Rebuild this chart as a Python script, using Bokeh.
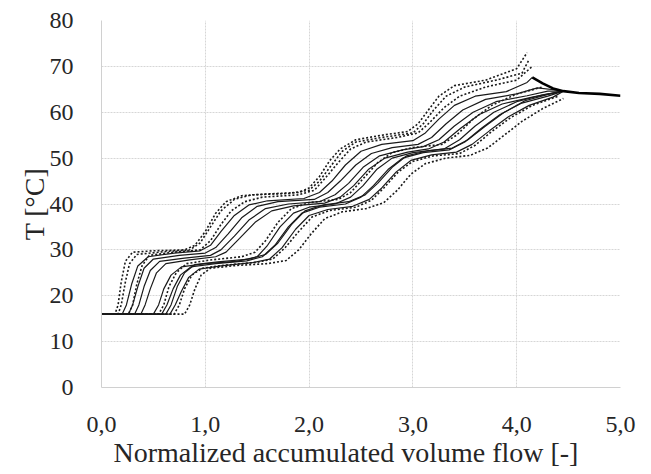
from bokeh.plotting import figure
from bokeh.models import Range1d, FixedTicker, Title
from bokeh.embed import file_html
from bokeh.resources import INLINE

# ---- data ----
# early group, dotted
D1_x = [0, 0.13, 0.16, 0.19, 0.23, 0.30, 0.50, 0.80, 0.90, 1.00, 1.10, 1.20, 1.35, 1.60, 1.90, 2.00, 2.10, 2.20, 2.30, 2.45, 2.70, 2.95, 3.05, 3.15, 3.25, 3.40, 3.70, 4.00, 4.10]
D1_y = [16, 16, 18, 23, 27.5, 29.5, 29.8, 30, 31, 34, 38, 40.5, 41.8, 42.2, 42.5, 43.5, 46, 49.5, 52, 54, 55, 55.8, 57.5, 60.5, 63.5, 65.8, 67, 69.5, 73]
D2_x = [0, 0.16, 0.19, 0.23, 0.27, 0.34, 0.60, 0.85, 0.95, 1.05, 1.15, 1.28, 1.45, 1.80, 2.00, 2.10, 2.20, 2.32, 2.45, 2.70, 3.00, 3.10, 3.20, 3.32, 3.50, 3.80, 4.05, 4.12]
D2_y = [16, 16, 18, 23, 27, 29, 29.6, 30, 31.5, 35, 38.5, 41, 42, 42.3, 43, 45, 48, 51.5, 53.5, 54.5, 55.5, 57.5, 60.5, 63.5, 65.5, 67, 68.5, 71.5]
D3_x = [0, 0.26, 0.30, 0.34, 0.39, 0.46, 0.70, 0.95, 1.05, 1.15, 1.25, 1.38, 1.55, 1.90, 2.05, 2.15, 2.28, 2.40, 2.55, 2.85, 3.05, 3.15, 3.30, 3.45, 3.70, 4.00, 4.15]
D3_y = [16, 16, 18, 22.5, 26.5, 28.8, 29.5, 30, 32, 35.5, 38.5, 40.5, 41.5, 42, 43, 45.5, 49, 52, 53.5, 54.5, 55.5, 57.5, 61, 63.5, 65.5, 67, 70]
# early group, solid
S1_x = [0, 0.20, 0.24, 0.29, 0.35, 0.45, 0.70, 0.95, 1.05, 1.15, 1.28, 1.42, 1.60, 1.95, 2.10, 2.22, 2.35, 2.50, 2.70, 3.00, 3.12, 3.25, 3.40, 3.60, 3.90, 4.10, 4.15]
S1_y = [16, 16, 18, 22.5, 26.5, 28.5, 29.3, 29.8, 31, 34, 37.5, 39.8, 40.7, 41.2, 42.5, 45, 48.5, 51.5, 53, 53.8, 55.5, 58.5, 61.5, 63.5, 64.5, 66.5, 67.6]
S2_x = [0, 0.26, 0.30, 0.35, 0.41, 0.50, 0.75, 1.00, 1.10, 1.22, 1.35, 1.50, 1.70, 2.05, 2.18, 2.30, 2.45, 2.60, 2.80, 3.05, 3.18, 3.32, 3.48, 3.70, 4.00, 4.20, 4.40]
S2_y = [16, 16, 18, 22, 26, 28, 28.8, 29.3, 30.5, 33.5, 37, 39.5, 40.5, 41, 42.5, 45, 48.5, 51, 52.3, 53, 54.5, 57.5, 60.5, 62.8, 64, 65.3, 64.8]
S3_x = [0, 0.32, 0.36, 0.41, 0.47, 0.56, 0.80, 1.05, 1.15, 1.28, 1.42, 1.58, 1.80, 2.10, 2.25, 2.38, 2.52, 2.68, 2.90, 3.10, 3.25, 3.40, 3.58, 3.80, 4.10, 4.30, 4.45]
S3_y = [16, 16, 18, 22, 25.5, 27.5, 28.2, 28.8, 30, 33, 36.5, 39, 40, 40.5, 42, 44.5, 48, 50.5, 51.8, 52.5, 54, 57, 60, 62.3, 63.6, 64.6, 64.6]
S4_x = [0, 0.38, 0.42, 0.47, 0.53, 0.62, 0.85, 1.10, 1.20, 1.33, 1.48, 1.64, 1.85, 2.15, 2.30, 2.43, 2.57, 2.73, 2.95, 3.15, 3.30, 3.46, 3.64, 3.86, 4.15, 4.45]
S4_y = [16, 16, 18, 21.5, 25, 27, 27.8, 28.5, 29.5, 32.5, 36, 38.5, 39.6, 40.2, 41.5, 44, 47.5, 50, 51.3, 52, 53.5, 56.5, 59.5, 61.8, 63.3, 64.6]
# late group, solid
T1_x = [0, 0.50, 0.55, 0.60, 0.67, 0.77, 1.00, 1.30, 1.50, 1.60, 1.72, 1.85, 2.00, 2.25, 2.40, 2.52, 2.65, 2.80, 3.00, 3.30, 3.45, 3.60, 3.78, 4.00, 4.25, 4.45]
T1_y = [16, 16, 18, 21.5, 24.5, 26.3, 27, 27.5, 28.5, 31, 35, 38, 39.3, 40, 41.5, 44, 47.5, 50, 51.2, 52, 54, 57, 60, 62.3, 63.8, 64.6]
T2_x = [0, 0.58, 0.63, 0.69, 0.76, 0.86, 1.10, 1.40, 1.55, 1.67, 1.80, 1.93, 2.10, 2.35, 2.50, 2.62, 2.76, 2.90, 3.10, 3.35, 3.50, 3.66, 3.84, 4.05, 4.30, 4.45]
T2_y = [16, 16, 18, 21.5, 24.5, 26.3, 27, 27.6, 28.5, 31, 35, 38, 39.3, 40, 41.5, 44, 47.5, 50, 51.2, 51.8, 53.5, 56.5, 59.5, 62, 63.5, 64.6]
T3_x = [0, 0.66, 0.71, 0.77, 0.84, 0.94, 1.15, 1.45, 1.62, 1.74, 1.87, 2.00, 2.18, 2.42, 2.58, 2.70, 2.84, 2.98, 3.18, 3.42, 3.57, 3.74, 3.92, 4.12, 4.35, 4.45]
T3_y = [16, 16, 18, 21, 24, 25.8, 26.5, 27.2, 28, 30.5, 34.5, 37.5, 38.8, 39.5, 41, 43.5, 47, 49.5, 50.7, 51.3, 53, 56, 59, 61.5, 63.3, 64.6]
T4_x = [0, 0.62, 0.67, 0.73, 0.80, 0.90, 1.12, 1.42, 1.58, 1.70, 1.83, 1.96, 2.14, 2.38, 2.54, 2.66, 2.80, 2.94, 3.14, 3.38, 3.53, 3.70, 3.88, 4.08, 4.32, 4.45]
T4_y = [16, 16, 18, 22, 25, 26.8, 27.4, 28, 29, 31.5, 35.5, 38.5, 39.8, 40.5, 42, 44.5, 48, 50.5, 51.6, 52.2, 54, 57, 60, 62.5, 64, 64.6]
# late group, dotted
M1_x = [0, 0.55, 0.60, 0.65, 0.72, 0.82, 1.05, 1.35, 1.48, 1.58, 1.70, 1.83, 2.00, 2.28, 2.40, 2.52, 2.66, 2.80, 3.00, 3.28, 3.42, 3.58, 3.76, 4.00, 4.25]
M1_y = [16, 16, 18, 22, 25, 27, 27.8, 28.5, 29.5, 32, 36, 39, 40.3, 41, 42.5, 45.5, 49, 51.2, 52.3, 53, 55, 58.5, 61.5, 64, 65.5]
M2_x = [0, 0.70, 0.75, 0.80, 0.87, 0.97, 1.20, 1.50, 1.65, 1.77, 1.90, 2.03, 2.20, 2.45, 2.60, 2.72, 2.86, 3.00, 3.20, 3.45, 3.60, 3.76, 3.94, 4.15, 4.40]
M2_y = [16, 16, 18, 21.5, 24.5, 26, 26.7, 27.3, 28, 30.5, 34, 37.2, 38.6, 39.3, 40.8, 43.5, 47, 49.3, 50.5, 51, 52.8, 55.8, 58.8, 61.5, 63.5]
M3_x = [0, 0.80, 0.85, 0.90, 0.96, 1.05, 1.30, 1.60, 1.78, 1.90, 2.02, 2.15, 2.32, 2.55, 2.72, 2.85, 2.98, 3.12, 3.32, 3.55, 3.72, 3.88, 4.05, 4.25, 4.45]
M3_y = [16, 16, 18, 21.5, 24.5, 26, 26.6, 27, 27.7, 30, 33.5, 36.8, 38.3, 39, 40.3, 43, 46.5, 48.8, 50, 50.6, 52.2, 55, 58, 60.8, 63]
# converged tail
TAIL_x = [4.15, 4.25, 4.35, 4.45, 4.60, 4.80, 5.00]
TAIL_y = [67.6, 66.3, 65.2, 64.6, 64.2, 64.0, 63.6]

X_TICKS = [0, 1, 2, 3, 4, 5]
X_LABELS = ["0,0", "1,0", "2,0", "3,0", "4,0", "5,0"]
Y_TICKS = [0, 10, 20, 30, 40, 50, 60, 70, 80]
X_TITLE = "Normalized accumulated volume flow [-]"
Y_TITLE = "T [°C]"

FONT = "Liberation Serif"

p = figure(width=645, height=474, output_backend="svg", toolbar_location=None,
           x_range=Range1d(0, 5), y_range=Range1d(0, 80),
           min_border_left=101, min_border_right=25, min_border_top=20, min_border_bottom=87)
p.outline_line_color = None
p.background_fill_color = "white"

for ax in (p.xaxis[0], p.yaxis[0]):
    ax.major_tick_line_color = None
    ax.minor_tick_line_color = None
    ax.axis_line_color = "#d0d0d0"
    ax.major_label_text_font = FONT
    ax.major_label_text_font_size = "24px"
    ax.major_label_text_color = "#262626"
    ax.axis_label_text_font = FONT
    ax.axis_label_text_font_size = "28px"
    ax.axis_label_text_font_style = "normal"
    ax.axis_label_text_color = "#262626"

p.xaxis.ticker = FixedTicker(ticks=X_TICKS)
p.xaxis.major_label_overrides = {t: l for t, l in zip(X_TICKS, X_LABELS)}
p.yaxis.ticker = FixedTicker(ticks=Y_TICKS)
p.yaxis.axis_label = Y_TITLE
p.xaxis.major_label_standoff = 23
p.yaxis.major_label_standoff = 22
p.yaxis.axis_label_standoff = -3

xt = Title(text=X_TITLE, align="left", offset=12, standoff=0,
           text_font=FONT, text_font_size="28px", text_font_style="normal",
           text_color="#262626")
p.add_layout(xt, "below")

p.grid.grid_line_color = "#d6d6d6"
p.grid.grid_line_width = 1
p.grid.grid_line_dash = "2 1"

solid = [(S1_x, S1_y), (S2_x, S2_y), (S3_x, S3_y), (S4_x, S4_y),
         (T1_x, T1_y), (T2_x, T2_y), (T3_x, T3_y), (T4_x, T4_y)]
dotted = [(D1_x, D1_y), (D2_x, D2_y), (D3_x, D3_y), (M1_x, M1_y), (M2_x, M2_y), (M3_x, M3_y)]

for xs, ys in solid:
    p.line(xs, ys, line_color="#1a1a1a", line_width=1.2)
for xs, ys in dotted:
    p.line(xs, ys, line_color="#1a1a1a", line_width=1.6, line_dash="2 2")
p.line(TAIL_x, TAIL_y, line_color="black", line_width=2.6)

open("out.html", "w").write(file_html(p, INLINE))
